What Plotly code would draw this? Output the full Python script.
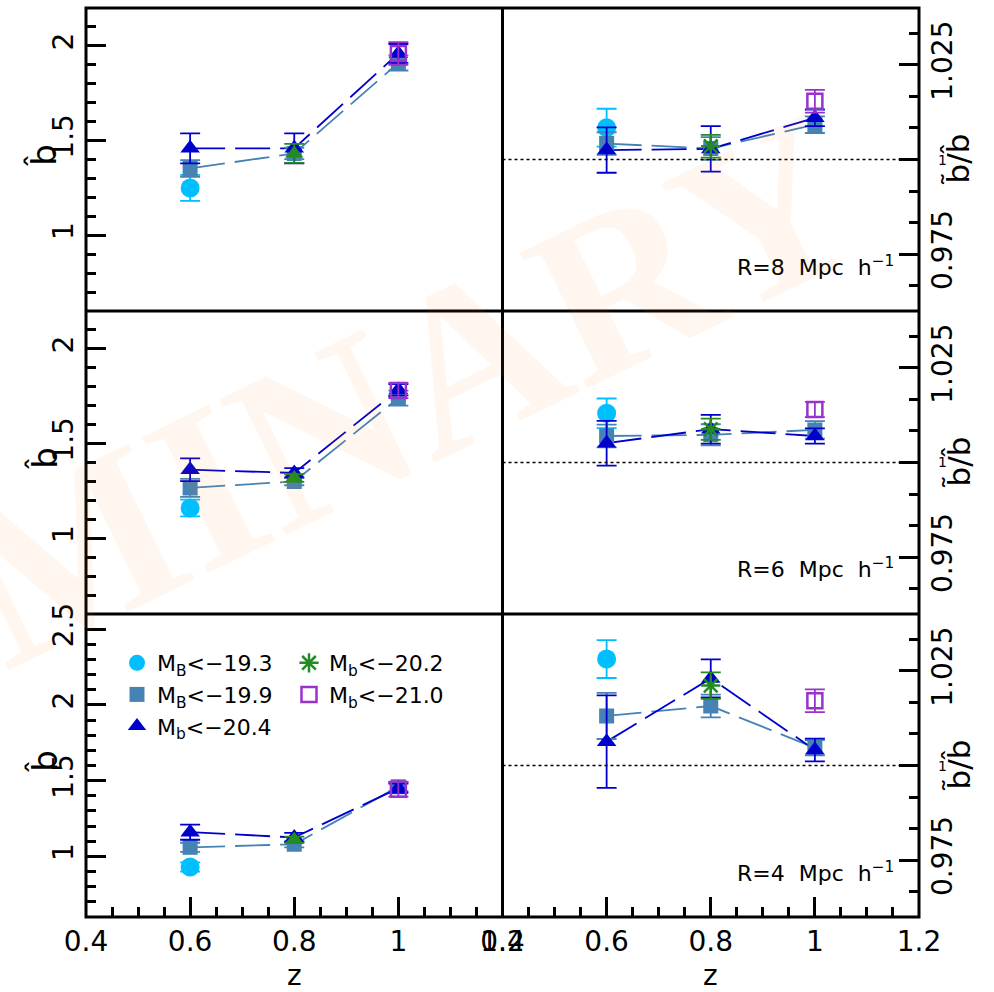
import plotly.graph_objects as go
import numpy as np

W, H = 994, 992
ML, MR, MT, MB = 86, 75, 8, 75
PW, PH = W - ML - MR, H - MT - MB

def px_x(p):
    return (p - ML) / PW

def px_y(p):
    return (H - MB - p) / PH

FONT = "DejaVu Sans"

# ---------------- data ----------------
z = [0.6, 0.8, 1.0]
radius_text = ["R=8", "R=6", "R=4"]

# left panels: b-hat (rows: R=8, R=6, R=4)
bhat_MB193 = [[1.25, None, None], [1.16, None, None], [0.93, None, None]]
bhat_MB193_err = [[0.069, 0, 0], [0.044, 0, 0], [0.03, 0, 0]]
bhat_MB199 = [[1.353, 1.432, 1.91], [1.266, 1.30, 1.74], [1.06, 1.08, 1.46]]
bhat_MB199_err = [[0.044, 0.03, 0.04], [0.048, 0.02, 0.04], [0.03, 0.02, 0.03]]
bhat_Mb204 = [[1.459, 1.459, 1.96], [1.362, 1.345, 1.784], [1.16, 1.125, 1.45]]
bhat_Mb204_err = [[0.079, 0.079, 0.05], [0.06, 0.025, 0.03], [0.05, 0.03, 0.03]]
bhat_Mb202 = [[None, 1.432, None], [None, 1.318, None], [None, 1.11, None]]
bhat_Mb202_err = [[0, 0.05, 0], [0, 0.02, 0], [0, 0.02, 0]]
bhat_Mb210 = [[None, None, 1.96], [None, None, 1.78], [None, None, 1.443]]
bhat_Mb210_err = [[0, 0, 0.06], [0, 0, 0.04], [0, 0, 0.048]]

# right panels: b-tilde / b-hat
ratio_MB193 = [[1.0084, None, None], [1.013, None, None], [1.0281, None, None]]
ratio_MB193_err = [[0.005, 0, 0], [0.0039, 0, 0], [0.005, 0, 0]]
ratio_MB199 = [[1.0042, 1.0029, 1.0092], [1.007, 1.0073, 1.0086], [1.0131, 1.0157, 1.0047]]
ratio_MB199_err = [[0.003, 0.003, 0.0022], [0.003, 0.0028, 0.0023], [0.0061, 0.003, 0.002]]
ratio_Mb204 = [[1.0025, 1.0028, 1.011], [1.0051, 1.0088, 1.007], [1.0063, 1.023, 1.0041]]
ratio_Mb204_err = [[0.006, 0.006, 0.0022], [0.0059, 0.0038, 0.002], [0.0122, 0.005, 0.003]]
ratio_Mb202 = [[None, 1.0035, None], [None, 1.0088, None], [None, 1.0211, None]]
ratio_Mb202_err = [[0, 0.003, 0], [0, 0.0028, 0], [0, 0.0035, 0]]
ratio_Mb210 = [[None, None, 1.0154], [None, None, 1.014], [None, None, 1.0171]]
ratio_Mb210_err = [[0, 0, 0.003], [0, 0, 0.002], [0, 0, 0.003]]

ref_level = 1.0

x_range = [0.4, 1.2]
x_ticks = [0.4, 0.6, 0.8, 1.0, 1.2]
x_ticklabels = ["0.4", "0.6", "0.8", "1", "1.2"]
left_ranges = [[0.6, 2.2], [0.6, 2.2], [0.6, 2.6]]
left_ticks = [[1, 1.5, 2], [1, 1.5, 2], [1, 1.5, 2, 2.5]]
left_ticklabels = [["1", "1.5", "2"], ["1", "1.5", "2"], ["1", "1.5", "2", "2.5"]]
right_range = [0.96, 1.04]
right_ticks = [0.975, 1.0, 1.025]
right_ticklabels = ["0.975", "", "1.025"]

# ---------------- styles ----------------
series = [
    dict(name="M<sub>B</sub>&lt;\u221219.3", color="#00BFFF", sym_l="circle", sym_r="circle",
         size=19, lw=0, line=False, legend="legend", rank=1, left=(bhat_MB193, bhat_MB193_err),
         right=(ratio_MB193, ratio_MB193_err)),
    dict(name="M<sub>B</sub>&lt;\u221219.9", color="#4682B4", sym_l="square", sym_r="square",
         size=15, lw=0, line=True, legend="legend", rank=2, left=(bhat_MB199, bhat_MB199_err),
         right=(ratio_MB199, ratio_MB199_err)),
    dict(name="M<sub>b</sub>&lt;\u221220.4", color="#0000CD", sym_l="triangle-up", sym_r="triangle-up",
         size=17, lw=0, line=True, legend="legend", rank=3, left=(bhat_Mb204, bhat_Mb204_err),
         right=(ratio_Mb204, ratio_Mb204_err)),
    dict(name="M<sub>b</sub>&lt;\u221220.2", color="#228B22", sym_l="triangle-up", sym_r="asterisk-open",
         size=16, lw=2.5, line=False, legend="legend2", rank=1, left=(bhat_Mb202, bhat_Mb202_err),
         right=(ratio_Mb202, ratio_Mb202_err)),
    dict(name="M<sub>b</sub>&lt;\u221221.0", color="#9932CC", sym_l="square-open", sym_r="square-open",
         size=15, lw=2.5, line=False, legend="legend2", rank=2, left=(bhat_Mb210, bhat_Mb210_err),
         right=(ratio_Mb210, ratio_Mb210_err)),
]

fig = go.Figure()

for r in range(3):
    for c in range(2):
        k = r * 2 + c + 1
        xa = "x" if k == 1 else f"x{k}"
        ya = "y" if k == 1 else f"y{k}"
        side = "left" if c == 0 else "right"
        # dashed connecting lines
        for s in series:
            if not s["line"]:
                continue
            vals = s[side][0][r]
            fig.add_trace(go.Scatter(x=z, y=vals, xaxis=xa, yaxis=ya, mode="lines",
                                     line=dict(color=s["color"], width=1.8, dash="35px,10px"),
                                     showlegend=False, hoverinfo="skip"))
        # markers with error bars
        for s in series:
            vals, errs = s[side][0][r], s[side][1][r]
            sym = s["sym_l"] if c == 0 else s["sym_r"]
            is_open = sym.endswith("open")
            if sym == "asterisk-open":
                show = (r == 2 and c == 1)
            else:
                show = (r == 2 and c == 0 and s["sym_l"] == s["sym_r"])
            mk = dict(symbol=sym, size=s["size"], color=s["color"])
            if is_open:
                mk["line"] = dict(color=s["color"], width=s["lw"])
            else:
                mk["line"] = dict(width=0)
            fig.add_trace(go.Scatter(
                x=z, y=vals, xaxis=xa, yaxis=ya, mode="markers", marker=mk,
                error_y=dict(type="data", array=errs, visible=True, color=s["color"],
                             thickness=1.8, width=10),
                name=s["name"], showlegend=show, legend=s["legend"], legendrank=s["rank"]))

# ---------------- axes ----------------
tickfont = dict(family=FONT, size=28, color="black")
x_minor = [round(v, 3) for v in np.arange(0.45, 1.2, 0.05)]
for r in range(3):
    ydom = [1 - (r + 1) / 3, 1 - r / 3]
    for c in range(2):
        k = r * 2 + c + 1
        sfx = "" if k == 1 else str(k)
        xd = dict(domain=[0.5 * c, 0.5 * (c + 1)], range=x_range, anchor="y" + sfx,
                  showline=False, showgrid=False, zeroline=False, fixedrange=True)
        if r == 2:
            xd.update(ticks="inside", ticklen=20, tickwidth=3, tickcolor="black",
                      tickmode="array", tickvals=x_ticks, ticktext=x_ticklabels,
                      tickfont=tickfont, ticklabelstandoff=5,
                      minor=dict(ticks="inside", ticklen=10, tickwidth=3, tickcolor="black",
                                 tickmode="array", tickvals=x_minor))
        else:
            xd.update(ticks="", showticklabels=False)
        fig.layout["xaxis" + sfx] = xd

        yd = dict(domain=ydom, anchor="x" + sfx, showline=False, showgrid=False,
                  zeroline=False, ticks="inside", ticklen=20, tickwidth=3, tickcolor="black",
                  tickfont=tickfont, tickangle=-90, tickmode="array", fixedrange=True)
        if c == 0:
            lo, hi = left_ranges[r]
            minor_vals = [round(v, 2) for v in np.arange(lo + 0.1, hi - 0.05, 0.1)]
            yd.update(side="left", range=left_ranges[r], tickvals=left_ticks[r],
                      ticktext=left_ticklabels[r], ticklabelstandoff=6,
                      minor=dict(ticks="inside", ticklen=10, tickwidth=3, tickcolor="black",
                                 tickmode="array", tickvals=minor_vals))
        else:
            step = 0.025 / 3
            minor_vals = [ref_level + i * step for i in range(-4, 5) if i % 3 != 0]
            yd.update(side="right", range=right_range, tickvals=right_ticks,
                      ticktext=right_ticklabels, ticklabelstandoff=4,
                      minor=dict(ticks="inside", ticklen=10, tickwidth=3, tickcolor="black",
                                 tickmode="array", tickvals=minor_vals))
        fig.layout["yaxis" + sfx] = yd

# ---------------- frame, reference lines, labels ----------------
frame = dict(color="black", width=3)
shapes = [
    dict(type="rect", xref="paper", yref="paper", x0=0, x1=1, y0=0, y1=1, line=frame, layer="above"),
    dict(type="line", xref="paper", yref="paper", x0=0.5, x1=0.5, y0=0, y1=1, line=frame, layer="above"),
    dict(type="line", xref="paper", yref="paper", x0=0, x1=1, y0=1 / 3, y1=1 / 3, line=frame, layer="above"),
    dict(type="line", xref="paper", yref="paper", x0=0, x1=1, y0=2 / 3, y1=2 / 3, line=frame, layer="above"),
]
annotations = []
panel_centers = [(MT + PH / 6), (MT + PH / 2), (MT + 5 * PH / 6)]
r_label_y = [266, 568, 872]
for r in range(3):
    k = r * 2 + 2
    shapes.append(dict(type="line", xref=f"x{k} domain", yref=f"y{k}", x0=0, x1=1,
                       y0=ref_level, y1=ref_level, line=dict(color="black", width=1.5, dash="dot")))
    annotations.append(dict(text=radius_text[r] + "\u00a0 Mpc\u00a0 h<sup>\u22121</sup>",
                            xref="paper", yref="paper", x=px_x(896), y=px_y(r_label_y[r]),
                            xanchor="right", yanchor="middle", showarrow=False,
                            font=dict(family=FONT, size=22, color="black")))
    annotations.append(dict(text="b\u0302", xref="paper", yref="paper", x=px_x(44),
                            y=px_y(panel_centers[r] - 4), textangle=-90, showarrow=False,
                            xanchor="center", yanchor="middle",
                            font=dict(family=FONT, size=34, color="black")))
    annotations.append(dict(text="b\u0303/b\u0302", xref="paper", yref="paper", x=px_x(958),
                            y=px_y(panel_centers[r]), textangle=-90, showarrow=False,
                            xanchor="center", yanchor="middle",
                            font=dict(family=FONT, size=31, color="black")))
    annotations.append(dict(text="1", xref="paper", yref=f"y{k}", x=px_x(942), y=ref_level,
                            showarrow=False, xanchor="center", yanchor="middle",
                            font=dict(family=FONT, size=14, color="black")))

for c in range(2):
    annotations.append(dict(text="z", xref=f"x{5 + c} domain", yref="paper", x=0.5, y=px_y(975),
                            showarrow=False, xanchor="center", yanchor="middle",
                            font=dict(family=FONT, size=28, color="black")))

annotations.append(dict(text="PRELIMINARY", xref="paper", yref="paper", x=px_x(88), y=px_y(545),
                        textangle=-26, showarrow=False, xanchor="center", yanchor="middle",
                        font=dict(family="Liberation Serif", size=231, weight="bold",
                                  color="rgba(255,140,20,0.065)")))

legend_font = dict(family=FONT, size=22, color="black")
fig.update_layout(
    width=W, height=H,
    margin=dict(l=ML, r=MR, t=MT, b=MB, autoexpand=False),
    paper_bgcolor="white", plot_bgcolor="white",
    shapes=shapes, annotations=annotations,
    font=dict(family=FONT, color="black"),
    legend=dict(orientation="v", x=px_x(117), y=px_y(642), xanchor="left", yanchor="top",
                bgcolor="rgba(0,0,0,0)", font=legend_font, traceorder="normal",
                tracegroupgap=0, itemclick=False, itemdoubleclick=False),
    legend2=dict(orientation="v", x=px_x(289), y=px_y(642), xanchor="left", yanchor="top",
                 bgcolor="rgba(0,0,0,0)", font=legend_font, traceorder="normal",
                 tracegroupgap=0, itemclick=False, itemdoubleclick=False),
    showlegend=True,
)

fig.write_html("out.html")
